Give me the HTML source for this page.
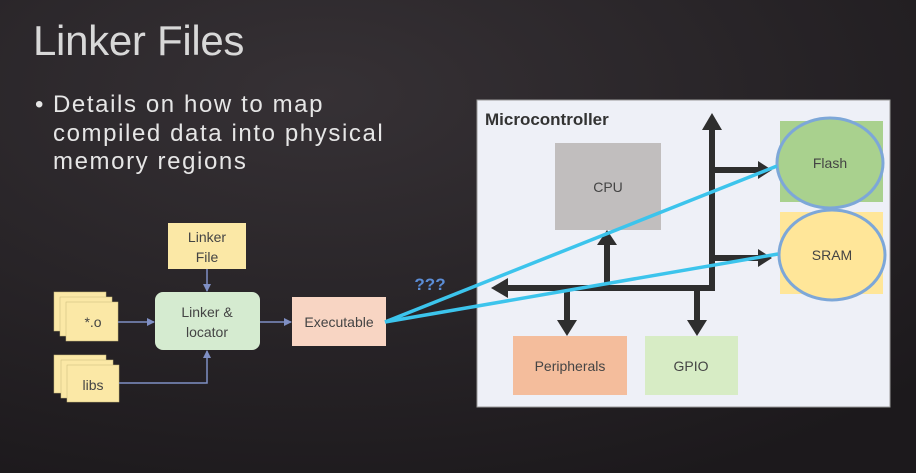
<!DOCTYPE html>
<html><head><meta charset="utf-8"><style>
html,body{margin:0;padding:0;width:916px;height:473px;overflow:hidden;background:#2a2629}
svg{display:block}
</style></head><body>
<svg width="916" height="473" viewBox="0 0 916 473" xmlns="http://www.w3.org/2000/svg">
<defs>
<radialGradient id="bg" cx="0.35" cy="0.2" r="0.9">
<stop offset="0" stop-color="#363135"/><stop offset="1" stop-color="#1c191c"/>
</radialGradient>
<marker id="ab" markerWidth="8" markerHeight="8" refX="7" refY="4" orient="auto" markerUnits="userSpaceOnUse"><path d="M0,0 L8,4 L0,8 z" fill="#7f8fc4"/></marker>
</defs>
<rect width="916" height="473" fill="url(#bg)"/>
<g font-family="Liberation Sans, sans-serif" fill="#e6e6e6">
<text x="33" y="55" font-size="42" fill="#d8d8d8" font-weight="300" letter-spacing="-0.3">Linker Files</text>
<text x="35" y="112" font-size="24">•</text>
<g font-size="24" letter-spacing="1.6">
<text x="53" y="112">Details on how to map</text>
<text x="53" y="141">compiled data into physical</text>
<text x="53" y="169">memory regions</text>
</g>
</g>
<g font-family="Liberation Sans, sans-serif" font-size="14" fill="#444" text-anchor="middle">
<rect x="168" y="223" width="78" height="46" fill="#fbe8a6"/>
<text x="207" y="242">Linker</text><text x="207" y="262">File</text>
<rect x="54" y="292" width="52" height="39" fill="#fbe8a6" stroke="#c9b97a" stroke-width="0.5"/>
<rect x="60" y="297" width="52" height="39" fill="#fbe8a6" stroke="#c9b97a" stroke-width="0.5"/>
<rect x="66" y="302" width="52" height="39" fill="#fbe8a6" stroke="#c9b97a" stroke-width="0.5"/>
<text x="93" y="327">*.o</text>
<rect x="54" y="355" width="52" height="38" fill="#fbe8a6" stroke="#c9b97a" stroke-width="0.5"/>
<rect x="61" y="360" width="52" height="38" fill="#fbe8a6" stroke="#c9b97a" stroke-width="0.5"/>
<rect x="67" y="365" width="52" height="37" fill="#fbe8a6" stroke="#c9b97a" stroke-width="0.5"/>
<text x="93" y="390">libs</text>
<rect x="155" y="292" width="105" height="58" rx="8" fill="#d5ebd0"/>
<text x="207" y="317">Linker &amp;</text><text x="207" y="337">locator</text>
<rect x="292" y="297" width="94" height="49" fill="#f8d5c3"/>
<text x="339" y="327">Executable</text>
<g stroke="#7f8fc4" stroke-width="1.5" fill="none">
<line x1="207" y1="269" x2="207" y2="291" marker-end="url(#ab)"/>
<line x1="118" y1="322" x2="154" y2="322" marker-end="url(#ab)"/>
<polyline points="119,383 207,383 207,351" marker-end="url(#ab)"/>
<line x1="260" y1="322" x2="291" y2="322" marker-end="url(#ab)"/>
</g>
<text x="430" y="290" font-size="17" font-weight="bold" fill="#5b8dd6">???</text>
<rect x="477" y="100" width="413" height="307" fill="#eef0f7" stroke="#999" stroke-width="1"/>
<text x="485" y="125" font-size="17" font-weight="bold" fill="#333" text-anchor="start">Microcontroller</text>
<rect x="555" y="143" width="106" height="87" fill="#c1bebe"/>
<text x="608" y="192">CPU</text>
<rect x="513" y="336" width="114" height="59" fill="#f4bd9c"/>
<text x="570" y="371">Peripherals</text>
<rect x="645" y="336" width="93" height="59" fill="#d7ecc5"/>
<text x="691" y="371">GPIO</text>
<rect x="780" y="121" width="103" height="81" fill="#a9d18e"/>
<rect x="780" y="212" width="103" height="82" fill="#ffe699"/>
<ellipse cx="830" cy="163" rx="53" ry="45" fill="#a9d18e" stroke="#7da7d8" stroke-width="3"/>
<ellipse cx="832" cy="255" rx="53" ry="45" fill="#ffe699" stroke="#7da7d8" stroke-width="3"/>
<text x="830" y="168">Flash</text>
<text x="832" y="260">SRAM</text>
<g stroke="#2e2e2e" stroke-width="6" fill="none">
<polyline points="712,128 712,288 505,288"/>
<line x1="712" y1="170" x2="762" y2="170"/>
<line x1="712" y1="258" x2="762" y2="258"/>
<line x1="607" y1="288" x2="607" y2="244"/>
<line x1="567" y1="288" x2="567" y2="322"/>
<line x1="697" y1="288" x2="697" y2="322"/>
</g>
<g fill="#2e2e2e">
<polygon points="712,113 702,130 722,130"/>
<polygon points="491,288 508,278 508,298"/>
<polygon points="772,170 758,161 758,179"/>
<polygon points="772,258 758,249 758,267"/>
<polygon points="607,230 597,245 617,245"/>
<polygon points="567,336 557,320 577,320"/>
<polygon points="697,336 687,320 707,320"/>
</g>
<g stroke="#3cc4ec" stroke-width="3.5">
<line x1="385" y1="322" x2="777" y2="166"/>
<line x1="385" y1="322" x2="778" y2="254"/>
</g>
</g>
</svg>
</body></html>
